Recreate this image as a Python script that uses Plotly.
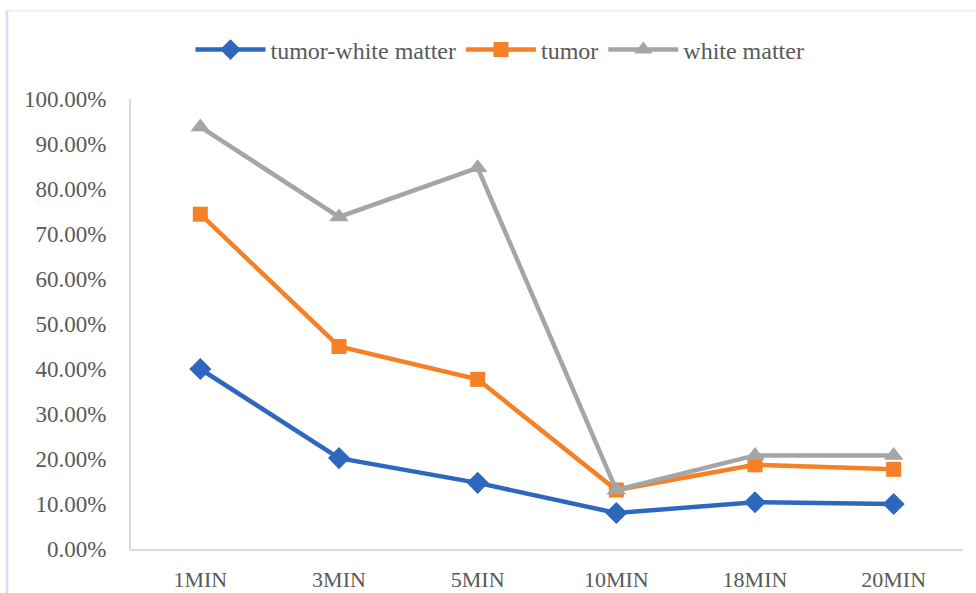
import plotly.graph_objects as go

# Sampling times and the percentage measured for each tissue region
times = ["1MIN", "3MIN", "5MIN", "10MIN", "18MIN", "20MIN"]
tumor_white_matter = [0.400, 0.202, 0.147, 0.080, 0.104, 0.100]
tumor = [0.744, 0.450, 0.377, 0.131, 0.187, 0.177]
white_matter = [0.938, 0.738, 0.847, 0.131, 0.208, 0.208]
y_ticks = [0.0, 0.1, 0.2, 0.3, 0.4, 0.5, 0.6, 0.7, 0.8, 0.9, 1.0]

BLUE = "#2E67BE"
ORANGE = "#F58025"
GRAY = "#A5A5A5"
TEXT = "#595959"
FONT = "Times New Roman, Liberation Serif, DejaVu Serif, serif"

fig = go.Figure()

series = [
    ("tumor-white matter", tumor_white_matter, BLUE, "diamond", 17),
    ("tumor", tumor, ORANGE, "square", 15),
    ("white matter", white_matter, GRAY, "triangle-up", 17),
]
for name, values, color, symbol, size in series:
    fig.add_trace(go.Scatter(
        x=times, y=values, name=name, mode="lines+markers",
        line=dict(color=color, width=4.5),
        marker=dict(symbol=symbol, size=size, color=color, line=dict(width=0)),
    ))

# light frame around the chart area
fig.add_shape(type="line", xref="paper", yref="paper",
              x0=-0.152, x1=1.02, y0=1.196, y1=1.196,
              line=dict(color="#EDEDED", width=1.5), layer="below")
fig.add_shape(type="line", xref="paper", yref="paper",
              x0=-0.149, x1=-0.149, y0=1.196, y1=-0.11,
              line=dict(color="#D3DDF0", width=2.5), layer="below")

fig.update_layout(
    width=976, height=593,
    margin=dict(l=131, r=13, t=99, b=44, autoexpand=False),
    paper_bgcolor="white", plot_bgcolor="white",
    font=dict(family=FONT, color=TEXT, size=23),
    showlegend=True,
    legend=dict(
        orientation="h", x=0.4435, y=1.109, xanchor="center", yanchor="middle",
        font=dict(family=FONT, size=24, color=TEXT),
        itemwidth=70, tracegroupgap=0, bgcolor="rgba(0,0,0,0)",
    ),
    xaxis=dict(
        type="category", range=[-0.5, 5.5], automargin=False,
        showgrid=False, zeroline=False,
        showline=True, linecolor="#D9D9D9", linewidth=2,
        ticks="", tickfont=dict(family=FONT, size=22, color=TEXT),
        ticklabelstandoff=10,
    ),
    yaxis=dict(
        range=[0, 1.0], tickvals=y_ticks, tickformat=".2%", automargin=False,
        showgrid=False, zeroline=False,
        showline=True, linecolor="#D9D9D9", linewidth=2,
        ticks="", tickfont=dict(family=FONT, size=23, color=TEXT),
        ticklabelstandoff=18,
    ),
)

fig.write_html("out.html")
